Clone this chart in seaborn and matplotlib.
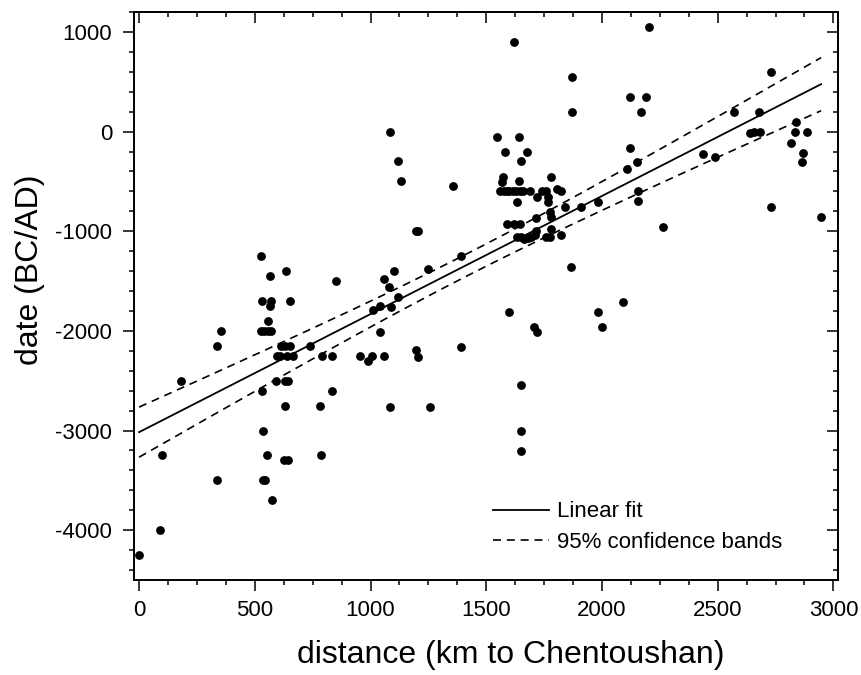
import numpy as np
import pandas as pd
import matplotlib
matplotlib.use("Agg")
import matplotlib.pyplot as plt
from matplotlib.ticker import MultipleLocator
import seaborn as sns

# ---- data ----
distance_km = [
    0, 90, 100, 180, 335, 355, 335,
    525, 565, 635, 850, 530, 570, 565, 650, 555,
    525, 540, 555, 570, 740, 615, 630, 650,
    595, 610, 640, 665, 790, 835, 955, 1005, 990,
    590, 630, 645, 530, 835, 630, 780, 537, 553, 785, 628, 645, 535, 542, 575,
    1010, 1085, 1120, 1133, 1357, 1195, 1205, 1390, 1250, 1100, 1057, 1080, 1118,
    1040, 1090, 1043, 1060, 1197, 1206, 1390, 1086, 1255,
    1600, 1650, 1650, 1650, 1706, 1720, 1866, 1984, 2000, 1870, 1870,
    1546, 1641, 1580, 1675, 1651, 1573, 1570, 1641, 1782,
    1560, 1575, 1590, 1600, 1615, 1630, 1645, 1660, 1690,
    1740, 1760, 1805, 1825,
    1632, 1718, 1768, 1768, 1840, 1910, 1985, 1775, 1782, 1716,
    1590, 1620, 1645, 1782, 1717,
    1635, 1650, 1665, 1680, 1695, 1710, 1760, 1775, 1821,
    1620,
    2205, 2120, 2190, 2170, 2120, 2150, 2110, 2157, 2157, 2262, 2435, 2490, 2090,
    2730, 2570, 2680, 2640, 2655, 2682, 2837, 2835, 2885, 2818, 2870, 2865, 2731, 2947,
]
date_bc_ad = [
    -4250, -4000, -3250, -2500, -2150, -2000, -3500,
    -1250, -1450, -1400, -1500, -1700, -1700, -1750, -1700, -1900,
    -2000, -2000, -2000, -2000, -2150, -2150, -2150, -2150,
    -2250, -2250, -2250, -2250, -2250, -2250, -2250, -2250, -2300,
    -2500, -2500, -2500, -2600, -2600, -2750, -2750, -3000, -3250, -3250, -3300, -3300, -3500, -3500, -3700,
    -1790, 0, -300, -500, -550, -1000, -1000, -1250, -1380, -1400, -1480, -1560, -1665,
    -1750, -1760, -2010, -2250, -2190, -2260, -2160, -2760, -2760,
    -1810, -2540, -3000, -3210, -1960, -2010, -1356, -1810, -1960, 195, 545,
    -50, -50, -200, -200, -300, -460, -510, -500, -460,
    -600, -600, -600, -600, -600, -600, -600, -600, -600,
    -600, -600, -580, -600,
    -710, -660, -660, -710, -760, -760, -710, -810, -860, -870,
    -930, -930, -930, -980, -1000,
    -1060, -1060, -1080, -1070, -1060, -1040, -1060, -1060, -1040,
    900,
    1050, 345, 345, 195, -160, -310, -380, -600, -700, -955, -220, -260, -1710,
    600, 195, 195, -10, 0, 0, 95, 0, 0, -110, -210, -310, -760, -860,
]

x_ticks = [0, 500, 1000, 1500, 2000, 2500, 3000]
y_ticks = [-4000, -3000, -2000, -1000, 0, 1000]

df = pd.DataFrame({"distance": distance_km, "date": date_bc_ad})

# ---- linear fit with 95% confidence bands of the mean ----
x = df["distance"].to_numpy(float)
y = df["date"].to_numpy(float)
n = len(x)
slope, intercept = np.polyfit(x, y, 1)
resid = y - (slope * x + intercept)
s = np.sqrt(np.sum(resid ** 2) / (n - 2))
xm = x.mean()
sxx = np.sum((x - xm) ** 2)
t_crit = 1.974
xf = np.linspace(0, x.max(), 200)
yf = slope * xf + intercept
half = t_crit * s * np.sqrt(1.0 / n + (xf - xm) ** 2 / sxx)
fit = pd.DataFrame({"x": xf, "fit": yf, "lo": yf - half, "hi": yf + half})

# ---- style ----
plt.rcParams["font.family"] = ["Liberation Sans", "DejaVu Sans"]
plt.rcParams["axes.linewidth"] = 1.4

fig = plt.figure(figsize=(8.61, 6.75), dpi=100)
ax = fig.add_axes([134 / 861, 1 - 580 / 675, 704 / 861, 568 / 675])

sns.scatterplot(data=df, x="distance", y="date", ax=ax, color="black",
                s=40, linewidth=0, legend=False, zorder=3)
sns.lineplot(data=fit, x="x", y="fit", ax=ax, color="black", lw=1.3,
             label="Linear fit")
sns.lineplot(data=fit, x="x", y="hi", ax=ax, color="black", lw=1.2,
             dashes=False, label="95% confidence bands")
sns.lineplot(data=fit, x="x", y="lo", ax=ax, color="black", lw=1.2)
for ln in ax.lines[1:]:
    ln.set_linestyle((0, (4.8, 3.5)))

ax.set_xlim(-22, 3020)
ax.set_ylim(-4500, 1200)
ax.xaxis.set_major_locator(MultipleLocator(500))
ax.xaxis.set_minor_locator(MultipleLocator(125))
ax.yaxis.set_major_locator(MultipleLocator(1000))
ax.yaxis.set_minor_locator(MultipleLocator(200))
ax.set_xticks(x_ticks)
ax.set_yticks(y_ticks)
ax.set_xticklabels([str(v) for v in x_ticks])
ax.set_yticklabels([str(v) for v in y_ticks])
ax.tick_params(which="major", direction="out", length=7.8, width=1.1,
               labelsize=16, top=False, right=False)
ax.tick_params(which="minor", direction="out", length=3.8, width=1.1,
               top=False, right=False)
ax.tick_params(axis="x", which="major", pad=6.5)
ax.tick_params(axis="y", which="major", pad=8)

secx = ax.secondary_xaxis("top")
secx.xaxis.set_major_locator(MultipleLocator(500))
secx.xaxis.set_minor_locator(MultipleLocator(125))
secx.tick_params(which="major", direction="in", length=7.8, width=1.1, labeltop=False)
secx.tick_params(which="minor", direction="in", length=3.8, width=1.1)
secy = ax.secondary_yaxis("right")
secy.yaxis.set_major_locator(MultipleLocator(1000))
secy.yaxis.set_minor_locator(MultipleLocator(200))
secy.tick_params(which="major", direction="in", length=7.8, width=1.1, labelright=False)
secy.tick_params(which="minor", direction="in", length=3.8, width=1.1)

ax.set_xlabel("distance (km to Chentoushan)", fontsize=23, labelpad=14)
ax.set_ylabel("date (BC/AD)", fontsize=23, labelpad=7)
ax.xaxis.label.set_x(0.535)
ax.yaxis.label.set_y(0.546)

handles, labels = ax.get_legend_handles_labels()
ax.legend(handles[:2], labels[:2], loc="center left",
          bbox_to_anchor=(493 / 861, 1 - 527 / 675), bbox_transform=fig.transFigure,
          frameon=False, fontsize=16, handlelength=2.5, handletextpad=0.36,
          borderpad=0, borderaxespad=0, labelspacing=0.42)

fig.savefig("out.png", dpi=100)
